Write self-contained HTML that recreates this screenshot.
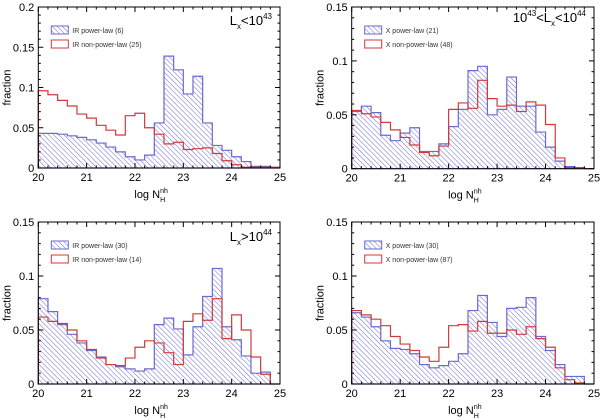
<!DOCTYPE html>
<html><head><meta charset="utf-8">
<style>
html,body{margin:0;padding:0;background:#fff;width:600px;height:420px;overflow:hidden}
svg{display:block;font-family:"Liberation Sans","DejaVu Sans",sans-serif}
</style></head>
<body>
<svg id="chart" width="600" height="420" viewBox="0 0 600 420" xmlns="http://www.w3.org/2000/svg">
<defs>
<pattern id="hatch" patternUnits="userSpaceOnUse" width="3.6" height="3.6" patternTransform="rotate(-45)">
<line x1="0" y1="0" x2="0" y2="3.6" stroke="#6a6ad0" stroke-width="1"/>
</pattern>
</defs>
</svg>
<script>
var binStarts = [20.0,20.2,20.4,20.6,20.8,21.0,21.2,21.4,21.6,21.8,22.0,22.2,22.4,22.6,22.8,23.0,23.2,23.4,23.6,23.8,24.0,24.2,24.4,24.6,24.8];
var p1Blue = [0.043,0.043,0.042,0.040,0.038,0.035,0.031,0.026,0.020,0.014,0.010,0.016,0.056,0.139,0.122,0.092,0.114,0.056,0.028,0.022,0.014,0.008,0.002,0.002,0];
var p1Red  = [0.096,0.091,0.084,0.077,0.067,0.062,0.053,0.047,0.041,0.065,0.068,0.050,0.042,0.030,0.032,0.023,0.024,0.025,0.018,0.009,0.004,0.001,0.001,0.001,0.001];
var p2Blue = [0.053,0.058,0.052,0.031,0.026,0.033,0.038,0.016,0.016,0.023,0.039,0.055,0.091,0.095,0.050,0.055,0.085,0.058,0.058,0.034,0.020,0.007,0.002,0,0];
var p2Red  = [0.054,0.051,0.048,0.043,0.036,0.029,0.022,0.015,0.012,0.021,0.055,0.061,0.056,0.082,0.065,0.058,0.059,0.053,0.062,0.059,0.041,0.010,0.001,0.001,0];
var p3Blue = [0.079,0.067,0.055,0.046,0.038,0.031,0.025,0.018,0.016,0.014,0.012,0.014,0.055,0.061,0.051,0.027,0.053,0.081,0.107,0.053,0.041,0.026,0.010,0.011,0];
var p3Red  = [0.062,0.058,0.056,0.050,0.040,0.032,0.024,0.018,0.017,0.024,0.034,0.040,0.038,0.029,0.018,0.058,0.065,0.059,0.079,0.042,0.064,0.050,0.025,0.009,0];
var p4Blue = [0.066,0.062,0.053,0.040,0.033,0.032,0.028,0.018,0.015,0.017,0.021,0.028,0.068,0.082,0.057,0.044,0.070,0.071,0.080,0.044,0.031,0.018,0.007,0.007,0];
var p4Red  = [0.068,0.064,0.060,0.054,0.044,0.037,0.031,0.025,0.021,0.034,0.054,0.055,0.049,0.058,0.047,0.047,0.050,0.046,0.053,0.042,0.034,0.015,0.004,0.001,0];
var xTicks = [20,21,22,23,24,25];
var yTicks1 = ["0","0.05","0.1","0.15","0.2"];
var yTicks2 = ["0","0.05","0.1","0.15"];
var legendBlue = ["IR power-law (6)","X power-law (21)","IR power-law (30)","X power-law (30)"];
var legendRed = ["IR non-power-law (25)","X non-power-law (48)","IR non-power-law (14)","X non-power-law (87)"];

var NS="http://www.w3.org/2000/svg";
var svg=document.getElementById('chart');
function mk(tag,attrs,parent){var e=document.createElementNS(NS,tag);for(var k in attrs)e.setAttribute(k,attrs[k]);(parent||svg).appendChild(e);return e;}

var panels=[
 {x0:38.3,x1:280,y0:168,y1:7,ymax:0.2,yt:yTicks1,blue:p1Blue,red:p1Red,title:["L","x","<10","43"],tx:272,ty:25,ylab:"fraction"},
 {x0:351.7,x1:594,y0:168.7,y1:7,ymax:0.15,yt:yTicks2,blue:p2Blue,red:p2Red,title:["10","43","<L","x","<10","44"],tx:586,ty:22,ylab:"fraction"},
 {x0:38.3,x1:280,y0:384,y1:222,ymax:0.15,yt:yTicks2,blue:p3Blue,red:p3Red,title:["L","x",">10","44"],tx:272,ty:241,ylab:"fraction"},
 {x0:351.7,x1:594,y0:384,y1:222,ymax:0.15,yt:yTicks2,blue:p4Blue,red:p4Red,title:null,ylab:"fraction"}
];

panels.forEach(function(p,i){
  var g=mk('g',{});
  
  
  function sx(v){return p.x0+(v-20)/5*(p.x1-p.x0);}
  function sy(v){return p.y0-(v/p.ymax)*(p.y0-p.y1);}
  function stepPath(vals,close){
    var d='M'+sx(20)+','+sy(0);
    for(var k=0;k<binStarts.length;k++){
      d+=' L'+sx(binStarts[k])+','+sy(vals[k])+' L'+sx(binStarts[k]+0.2)+','+sy(vals[k]);
    }
    d+=' L'+sx(25)+','+sy(0);
    if(close)d+=' Z';
    return d;
  }
  var bh=mk('path',{d:stepPath(p.blue,true),fill:'url(#hatch)',stroke:'#6a6ad0','stroke-width':1.2},g);
  
  
  var rh=mk('path',{d:stepPath(p.red,false),fill:'none',stroke:'#d03a3a','stroke-width':1.2},g);
  
  
  var fr=mk('rect',{x:p.x0,y:p.y1,width:p.x1-p.x0,height:p.y0-p.y1,fill:'none',stroke:'#000','stroke-width':1},g);
  
  
  for(var v=20;v<=25.001;v+=0.2){
    var major=Math.abs(v-Math.round(v))<0.01;var L=major?5:2.5;
    mk('line',{x1:sx(v),x2:sx(v),y1:p.y0,y2:p.y0-L,stroke:'#000','stroke-width':1},g);
    mk('line',{x1:sx(v),x2:sx(v),y1:p.y1,y2:p.y1+L,stroke:'#000','stroke-width':1},g);
  }
  xTicks.forEach(function(t){
    var tl=mk('text',{x:sx(t),y:p.y0+13,'text-anchor':'middle','font-size':11,fill:'#000'},g);
    tl.textContent=t;
    
    
  });
  for(var yv=0;yv<=p.ymax+1e-6;yv+=0.01){
    var maj=Math.abs(yv/0.05-Math.round(yv/0.05))<0.01;var L2=maj?5:2.5;
    mk('line',{x1:p.x0,x2:p.x0+L2,y1:sy(yv),y2:sy(yv),stroke:'#000','stroke-width':1},g);
    mk('line',{x1:p.x1,x2:p.x1-L2,y1:sy(yv),y2:sy(yv),stroke:'#000','stroke-width':1},g);
  }
  p.yt.forEach(function(t){
    var yl=mk('text',{x:p.x0-4,y:sy(parseFloat(t))+4,'text-anchor':'end','font-size':11,fill:'#000'},g);
    yl.textContent=t;
    
    
  });
  var yt=mk('text',{transform:'translate('+(p.x0-28)+','+((p.y0+p.y1)/2)+') rotate(-90)','text-anchor':'middle','font-size':11,fill:'#000'},g);
  yt.textContent=p.ylab;
  
  
  var xt=mk('text',{x:(p.x0+p.x1)/2-8,y:p.y0+30,'text-anchor':'middle','font-size':11,fill:'#000'},g);
  
  
  xt.appendChild(document.createTextNode('log N'));
  var s1=mk('tspan',{'font-size':7,dy:4},xt);s1.textContent='H';
  var s2=mk('tspan',{'font-size':7,dx:-5,dy:-9},xt);s2.textContent='nh';
  var lx=p.x0+13,ly=p.y1+19;
  var lb=mk('rect',{x:lx,y:ly,width:17,height:8,fill:'url(#hatch)',stroke:'#6a6ad0','stroke-width':1},g);
  
  
  var lbt=mk('text',{x:lx+21,y:ly+7,'font-size':7,fill:'#333'},g);lbt.textContent=legendBlue[i];
  
  
  var lr=mk('rect',{x:lx,y:ly+14,width:17,height:8,fill:'none',stroke:'#d03a3a','stroke-width':1},g);
  
  
  var lrt=mk('text',{x:lx+21,y:ly+21,'font-size':7,fill:'#333'},g);lrt.textContent=legendRed[i];
  
  
  if(p.title){
    var tt=mk('text',{x:p.tx,y:p.ty,'text-anchor':'end','font-size':13,fill:'#000'},g);
    
    
    var parts=p.title;
    for(var k=0;k<parts.length;k++){
      var sub=(parts[k]==='x');var sup=/^4[34]$/.test(parts[k]);
      var ts=mk('tspan',{},tt);
      if(sub){ts.setAttribute('font-size',8);ts.setAttribute('dy',4);}
      else if(sup){ts.setAttribute('font-size',8);ts.setAttribute('dy',-6);}
      else if(k>0 && (parts[k-1]==='x'||/^4[34]$/.test(parts[k-1]))){ts.setAttribute('dy',parts[k-1]==='x'?-4:6);}
      ts.textContent=parts[k];
    }
  }
});
</script>
</body></html>
